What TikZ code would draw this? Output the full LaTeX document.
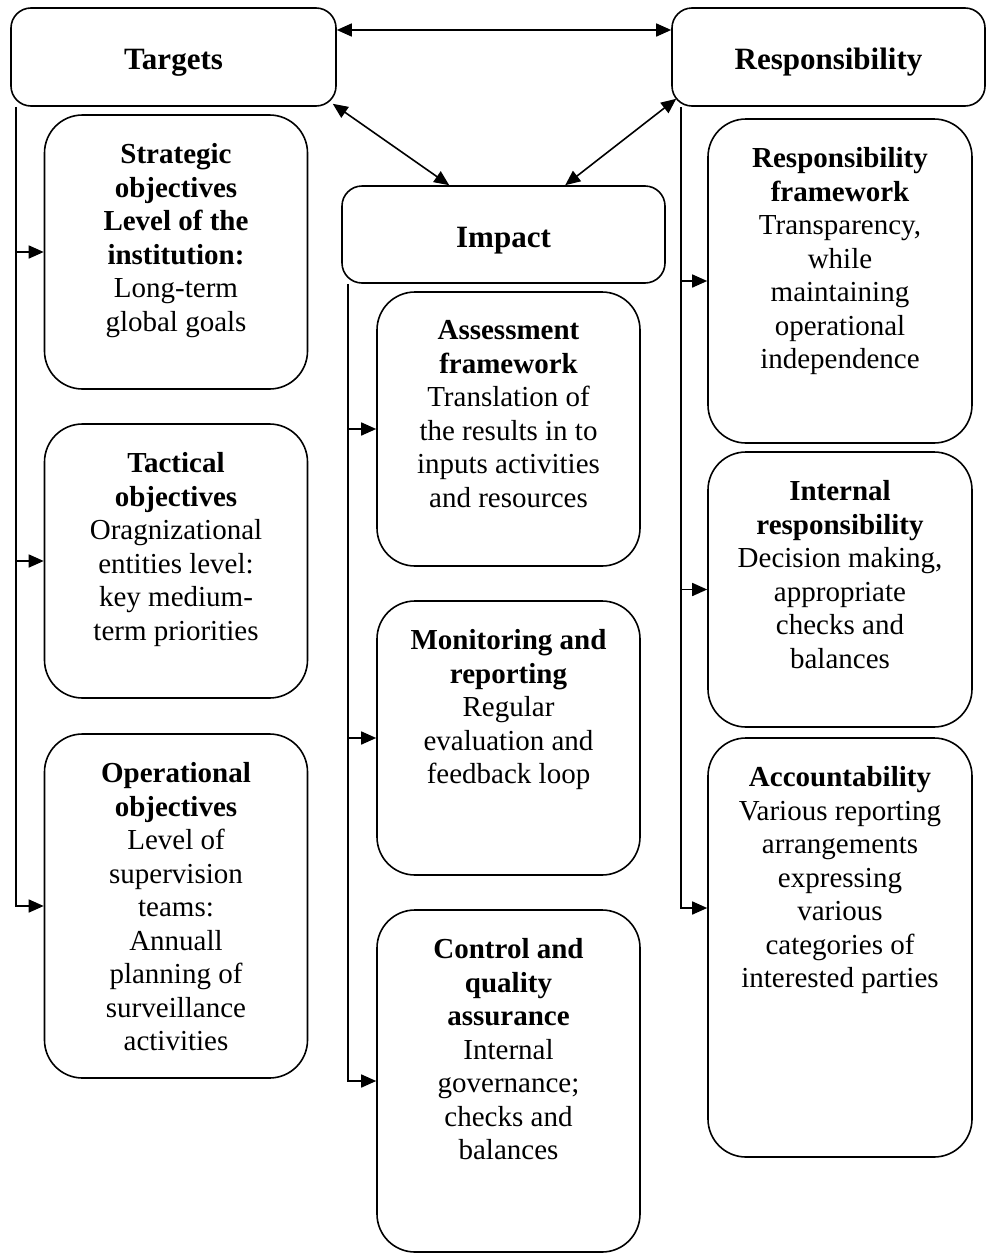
\documentclass[tikz,border=0pt]{standalone}
\usepackage{fontspec}
\setmainfont{Liberation Serif}
\usetikzlibrary{arrows.meta}

\begin{document}
\begin{tikzpicture}[x=1pt,y=-1pt]

\tikzset{head/.style = {shape=rectangle,draw,rounded corners=20pt,line width=1.6pt,font=\bfseries\fontsize{31}{34}\selectfont,text height=25pt,text depth=0pt}}
\tikzset{box/.style = {shape=rectangle,draw,rounded corners=38pt,line width=1.6pt,minimum width=263pt}}
\tikzset{txt/.style = {anchor=north,align=center,inner sep=0pt,font=\fontsize{29}{33.5}\selectfont}}
\tikzset{edge/.style = {-{Triangle[length=15pt,width=13pt]},line width=1.6pt}}
\tikzset{both/.style = {{Triangle[length=15pt,width=13pt]}-{Triangle[length=15pt,width=13pt]},line width=1.6pt}}

\useasboundingbox (0,0) rectangle (987,1253);

%headers
\node[head, minimum width=325pt, minimum height=98pt] (targets) at (173.5,57) {Targets};
\node[head, minimum width=313pt, minimum height=98pt] (resp) at (828.5,57) {Responsibility};
\node[head, minimum width=323pt, minimum height=97pt] (impact) at (503.5,234.5) {Impact};

%left column
\node[box, minimum height=274pt] (strategic) at (176,252) {};
\node[box, minimum height=274pt] (tactical) at (176,561) {};
\node[box, minimum height=344pt] (operational) at (176,906) {};
\node[txt] (strategic-t) at ([yshift=-29pt]strategic.north) {\textbf{Strategic}\\\textbf{objectives}\\\textbf{Level of the}\\\textbf{institution:}\\Long-term\\global goals};
\node[txt] (tactical-t) at ([yshift=-29pt]tactical.north) {\textbf{Tactical}\\\textbf{objectives}\\Oragnizational\\entities level:\\key medium-\\term priorities};
\node[txt] (operational-t) at ([yshift=-29pt]operational.north) {\textbf{Operational}\\\textbf{objectives}\\Level of\\supervision\\teams:\\Annuall\\planning of\\surveillance\\activities};

%middle column
\node[box, minimum height=274pt] (assessment) at (508.5,429) {};
\node[box, minimum height=274pt] (monitoring) at (508.5,738) {};
\node[box, minimum height=342pt] (control) at (508.5,1081) {};
\node[txt] (assessment-t) at ([yshift=-29pt]assessment.north) {\textbf{Assessment}\\\textbf{framework}\\Translation of\\the results in to\\inputs activities\\and resources};
\node[txt] (monitoring-t) at ([yshift=-29pt]monitoring.north) {\textbf{Monitoring and}\\\textbf{reporting}\\Regular\\evaluation and\\feedback loop};
\node[txt] (control-t) at ([yshift=-29pt]control.north) {\textbf{Control and}\\\textbf{quality}\\\textbf{assurance}\\Internal\\governance;\\checks and\\balances};

%right column
\node[box, minimum width=264pt, minimum height=324pt] (framework) at (840,281) {};
\node[box, minimum width=264pt, minimum height=275pt] (internal) at (840,589.5) {};
\node[box, minimum width=264pt, minimum height=419pt] (account) at (840,947.5) {};
\node[txt] (framework-t) at ([yshift=-29pt]framework.north) {\textbf{Responsibility}\\\textbf{framework}\\Transparency,\\while\\maintaining\\operational\\independence};
\node[txt] (internal-t) at ([yshift=-29pt]internal.north) {\textbf{Internal}\\\textbf{responsibility}\\Decision making,\\appropriate\\checks and\\balances};
\node[txt] (account-t) at ([yshift=-29pt]account.north) {\textbf{Accountability}\\Various reporting\\arrangements\\expressing\\various\\categories of\\interested parties};

%trunks
\coordinate (ltop) at ([xshift=6pt]targets.south west);
\coordinate (mtop) at ([xshift=7pt]impact.south west);
\coordinate (rtop) at ([xshift=10pt]resp.south west);

\draw[edge] (ltop) |- (operational.west);
\draw[edge] (ltop |- strategic.west) -- (strategic.west);
\draw[edge] (ltop |- tactical.west) -- (tactical.west);

\draw[edge] (mtop) |- (control.west);
\draw[edge] (mtop |- assessment.west) -- (assessment.west);
\draw[edge] (mtop |- monitoring.west) -- (monitoring.west);

\draw[edge] (rtop) |- ([yshift=39.5pt]account.west);
\draw[edge] (rtop |- framework.west) -- (framework.west);
\draw[edge] (rtop |- internal.west) -- (internal.west);

%links between headers
\draw[both] ([yshift=27pt]targets.east) -- ([yshift=27pt]resp.west);
\draw[both] ([xshift=-4pt,yshift=3pt]targets.south east) -- ([xshift=108pt]impact.north west);
\draw[both] ([xshift=5pt,yshift=8pt]resp.south west) -- ([xshift=224pt]impact.north west);

\end{tikzpicture}
\end{document}
